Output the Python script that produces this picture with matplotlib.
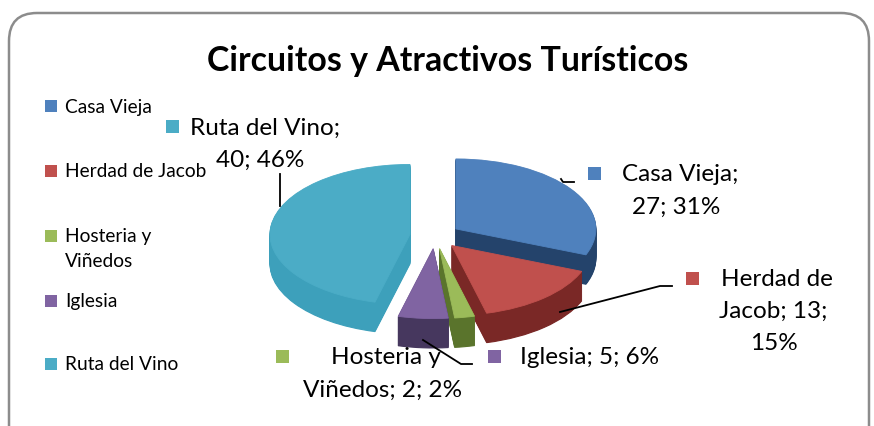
import matplotlib
matplotlib.use("Agg")
import matplotlib.pyplot as plt
from matplotlib.patches import FancyBboxPatch, Rectangle

# ---- data ----
categories = ["Casa Vieja", "Herdad de Jacob", "Hosteria y Viñedos", "Iglesia", "Ruta del Vino"]
values = [27, 13, 2, 5, 40]
legend_labels = ["Casa Vieja", "Herdad de Jacob", "Hosteria y\nViñedos", "Iglesia", "Ruta del Vino"]
label_templates = ["{n};\n{v}; {p}%", "Herdad de\nJacob; {v};\n{p}%", "Hosteria y\nViñedos; {v}; {p}%",
                   "{n}; {v}; {p}%", "{n};\n{v}; {p}%"]
top_colors = ["#4F81BD", "#C0504D", "#9BBB59", "#8064A2", "#4BACC6"]
side_colors = ["#24436B", "#7A2826", "#5A742C", "#46375E", "#3DA0BB"]
title = "Circuitos y Atractivos Turísticos"

FONT = "Lato"
W, H = 874, 427
fig = plt.figure(figsize=(W / 100, H / 100), dpi=100)

# background / frame axes in pixel coordinates
bg = fig.add_axes([0, 0, 1, 1], zorder=0)
bg.set_xlim(0, W); bg.set_ylim(H, 0); bg.axis("off")
bg.add_patch(FancyBboxPatch((9, 14), 860, 460, boxstyle="round,pad=0,rounding_size=28",
                            fc="white", ec="#8C8C8C", lw=1.8, clip_on=False))

# pie axes (units scaled so the pie looks tilted)
cx, cy, sx, sy = 435, 237, 140, 70
ax = fig.add_axes([0, 0, 1, 1], zorder=1)
explode = [0.18] * len(values)
depth = 0.42
N = 30
for k in range(N, 0, -1):
    wedges, _ = ax.pie(values, colors=side_colors, startangle=90, counterclock=False,
                       explode=explode, center=(0, -depth * k / N), radius=1)
    for w, c in zip(wedges, side_colors):
        w.set_edgecolor(c); w.set_linewidth(0.8)
wedges, _ = ax.pie(values, colors=top_colors, startangle=90, counterclock=False,
                   explode=explode, center=(0, 0), radius=1)
for w, c in zip(wedges, top_colors):
    w.set_edgecolor(c); w.set_linewidth(0.6)
ax.set_aspect("auto")
ax.set_xlim(-cx / sx, (W - cx) / sx)
ax.set_ylim((cy - H) / sy, cy / sy)
ax.axis("off")

# overlay axes for texts in pixel coordinates
ov = fig.add_axes([0, 0, 1, 1], zorder=2)
ov.set_xlim(0, W); ov.set_ylim(H, 0); ov.axis("off")

ov.text(448, 61, title, ha="center", va="center", fontsize=24.4, fontweight="bold", family=FONT)

# legend
leg_y = [107, 172, 249, 302, 365]
for lab, c, y in zip(legend_labels, top_colors, leg_y):
    lines = lab.split("\n")
    y0 = y - 12.5 * (len(lines) - 1)
    ov.add_patch(Rectangle((45, y0 - 6), 12, 12, fc=c, ec="none"))
    for i, ln in enumerate(lines):
        ov.text(65, y0 + 25 * i, ln, ha="left", va="center", fontsize=13.8, family=FONT)

# data labels
total = sum(values)
pcts = [round(v / total * 100) for v in values]
lab_pos = [  # (square x, square y, [(line cx, line cy), ...])
    (594, 174, [(680, 175), (676, 207)]),
    (692, 279, [(777, 280), (773, 311), (774, 344)]),
    (282, 357, [(386, 358), (383, 390)]),
    (494, 357, [(590, 358)]),
    (172, 127, [(265, 128), (260, 160)]),
]
for n, v, p, tpl, c, (sqx, sqy, lines_xy) in zip(categories, values, pcts, label_templates, top_colors, lab_pos):
    txt = tpl.format(n=n, v=v, p=p).split("\n")
    ov.add_patch(Rectangle((sqx - 6.5, sqy - 6.5), 13, 13, fc=c, ec="none"))
    for ln, (lx, ly) in zip(txt, lines_xy):
        ov.text(lx, ly, ln, ha="center", va="center", fontsize=17.5, family=FONT)

# leader lines
lk = dict(color="black", lw=1.3)
ov.plot([280, 280], [175, 207], **lk)
ov.plot([561, 563, 574], [180, 183, 183], **lk)
ov.plot([560, 660, 672], [313, 287, 287], **lk)
ov.plot([423, 461, 472], [341, 365, 365], **lk)

fig.savefig("out.png", dpi=100)
